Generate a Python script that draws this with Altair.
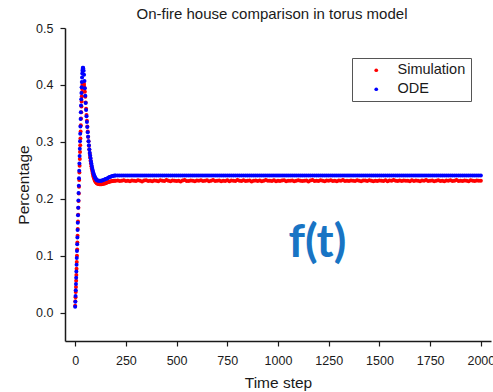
import altair as alt
import pandas as pd

# ---- time steps at which values are plotted ----
t_steps = list(range(0, 41)) + list(range(42, 111, 2)) + list(range(115, 201, 5)) + list(range(210, 2001, 10))

# ---- ODE (blue) ----
ode_values = [
    0.010, 0.019, 0.029, 0.039, 0.050, 0.061, 0.072, 0.084, 0.096, 0.108,
    0.120, 0.132, 0.145, 0.158, 0.171, 0.184, 0.197, 0.210, 0.223, 0.236,
    0.249, 0.262, 0.275, 0.288, 0.301, 0.314, 0.327, 0.340, 0.352, 0.364,
    0.375, 0.386, 0.396, 0.405, 0.413, 0.420, 0.425, 0.428, 0.430, 0.430,
    0.429,
    # 42..110 step 2
    0.425, 0.418, 0.407, 0.394, 0.381, 0.368, 0.356, 0.345, 0.335, 0.326,
    0.317, 0.309, 0.301, 0.294, 0.287, 0.281, 0.276, 0.271, 0.266, 0.262,
    0.258, 0.254, 0.251, 0.248, 0.245, 0.243, 0.241, 0.239, 0.2375, 0.2362,
    0.2350, 0.2340, 0.2332, 0.2326, 0.2321,
    # 115..200 step 5
    0.2316, 0.2314, 0.2315, 0.2318, 0.2323, 0.2330, 0.2337, 0.2345, 0.2353, 0.2362,
    0.2371, 0.2380, 0.2388, 0.2395, 0.2400, 0.2404, 0.2407, 0.2410,
    # 210..2000 step 10
    0.241, 0.241, 0.241, 0.241, 0.241, 0.241, 0.241, 0.241, 0.241, 0.241,
    0.241, 0.241, 0.241, 0.241, 0.241, 0.241, 0.241, 0.241, 0.241, 0.241,
    0.241, 0.241, 0.241, 0.241, 0.241, 0.241, 0.241, 0.241, 0.241, 0.241,
    0.241, 0.241, 0.241, 0.241, 0.241, 0.241, 0.241, 0.241, 0.241, 0.241,
    0.241, 0.241, 0.241, 0.241, 0.241, 0.241, 0.241, 0.241, 0.241, 0.241,
    0.241, 0.241, 0.241, 0.241, 0.241, 0.241, 0.241, 0.241, 0.241, 0.241,
    0.241, 0.241, 0.241, 0.241, 0.241, 0.241, 0.241, 0.241, 0.241, 0.241,
    0.241, 0.241, 0.241, 0.241, 0.241, 0.241, 0.241, 0.241, 0.241, 0.241,
    0.241, 0.241, 0.241, 0.241, 0.241, 0.241, 0.241, 0.241, 0.241, 0.241,
    0.241, 0.241, 0.241, 0.241, 0.241, 0.241, 0.241, 0.241, 0.241, 0.241,
    0.241, 0.241, 0.241, 0.241, 0.241, 0.241, 0.241, 0.241, 0.241, 0.241,
    0.241, 0.241, 0.241, 0.241, 0.241, 0.241, 0.241, 0.241, 0.241, 0.241,
    0.241, 0.241, 0.241, 0.241, 0.241, 0.241, 0.241, 0.241, 0.241, 0.241,
    0.241, 0.241, 0.241, 0.241, 0.241, 0.241, 0.241, 0.241, 0.241, 0.241,
    0.241, 0.241, 0.241, 0.241, 0.241, 0.241, 0.241, 0.241, 0.241, 0.241,
    0.241, 0.241, 0.241, 0.241, 0.241, 0.241, 0.241, 0.241, 0.241, 0.241,
    0.241, 0.241, 0.241, 0.241, 0.241, 0.241, 0.241, 0.241, 0.241, 0.241,
    0.241, 0.241, 0.241, 0.241, 0.241, 0.241, 0.241, 0.241, 0.241, 0.241,
]

# ---- Simulation (red) ----
sim_values = [
    0.012, 0.020, 0.027, 0.036, 0.045, 0.056, 0.066, 0.077, 0.089, 0.100,
    0.111, 0.123, 0.135, 0.147, 0.160, 0.172, 0.184, 0.196, 0.209, 0.221,
    0.233, 0.246, 0.258, 0.270, 0.282, 0.294, 0.306, 0.318, 0.329, 0.341,
    0.352, 0.362, 0.371, 0.380, 0.387, 0.393, 0.398, 0.401, 0.403, 0.404,
    0.404,
    # 42..110 step 2
    0.403, 0.400, 0.395, 0.388, 0.379, 0.369, 0.358, 0.347, 0.337, 0.327,
    0.318, 0.309, 0.301, 0.293, 0.286, 0.279, 0.273, 0.267, 0.262, 0.257,
    0.253, 0.249, 0.245, 0.242, 0.239, 0.237, 0.235, 0.233, 0.2315, 0.2302,
    0.2292, 0.2283, 0.2276, 0.2270, 0.2265,
    # 115..200 step 5
    0.2259, 0.2255, 0.2254, 0.2255, 0.2258, 0.2262, 0.2268, 0.2274, 0.2281, 0.2288,
    0.2294, 0.2300, 0.2305, 0.2309, 0.2312, 0.2314, 0.2315, 0.2316,
    # 210..2000 step 10
    0.2320, 0.2313, 0.2316, 0.2325, 0.2311, 0.2318, 0.2307, 0.2322, 0.2315, 0.2310,
    0.2323, 0.2314, 0.2304, 0.2319, 0.2326, 0.2312, 0.2317, 0.2309, 0.2321, 0.2315,
    0.2308, 0.2324, 0.2316, 0.2311, 0.2329, 0.2314, 0.2306, 0.2320, 0.2318, 0.2312,
    0.2316, 0.2303, 0.2321, 0.2327, 0.2313, 0.2310, 0.2322, 0.2317, 0.2305, 0.2319,
    0.2314, 0.2325, 0.2311, 0.2318, 0.2323, 0.2308, 0.2315, 0.2330, 0.2312, 0.2316,
    0.2321, 0.2309, 0.2317, 0.2313, 0.2324, 0.2306, 0.2319, 0.2315, 0.2311, 0.2328,
    0.2315, 0.2312, 0.2326, 0.2310, 0.2318, 0.2322, 0.2304, 0.2317, 0.2320, 0.2313,
    0.2319, 0.2307, 0.2315, 0.2331, 0.2314, 0.2316, 0.2311, 0.2323, 0.2309, 0.2318,
    0.2312, 0.2320, 0.2325, 0.2308, 0.2317, 0.2314, 0.2321, 0.2306, 0.2316, 0.2324,
    0.2318, 0.2311, 0.2316, 0.2322, 0.2303, 0.2319, 0.2327, 0.2313, 0.2315, 0.2310,
    0.2323, 0.2316, 0.2309, 0.2320, 0.2314, 0.2325, 0.2312, 0.2318, 0.2305, 0.2321,
    0.2315, 0.2328, 0.2313, 0.2317, 0.2310, 0.2322, 0.2316, 0.2311, 0.2324, 0.2314,
    0.2307, 0.2319, 0.2321, 0.2313, 0.2326, 0.2315, 0.2309, 0.2318, 0.2312, 0.2320,
    0.2316, 0.2311, 0.2324, 0.2305, 0.2319, 0.2317, 0.2329, 0.2314, 0.2310, 0.2321,
    0.2313, 0.2322, 0.2315, 0.2318, 0.2308, 0.2323, 0.2312, 0.2320, 0.2316, 0.2306,
    0.2319, 0.2314, 0.2327, 0.2311, 0.2316, 0.2321, 0.2309, 0.2315, 0.2325, 0.2312,
    0.2318, 0.2305, 0.2320, 0.2314, 0.2323, 0.2310, 0.2317, 0.2328, 0.2313, 0.2316,
    0.2311, 0.2321, 0.2315, 0.2309, 0.2324, 0.2318, 0.2312, 0.2320, 0.2314, 0.2317,
]

series_names = ["Simulation", "ODE"]
series_colors = ["#ff0000", "#0000ff"]

x_ticks = [0, 125, 250, 375, 500, 625, 750, 875, 1000, 1125, 1250, 1375,
           1500, 1625, 1750, 1875, 2000]
y_ticks = [0.0, 0.05, 0.1, 0.15, 0.2, 0.25, 0.3, 0.35, 0.4, 0.45, 0.5]

annot_t = [1194]
annot_v = [0.123]
annot_text = ["f(t)"]

df = pd.DataFrame({
    "t": t_steps + t_steps,
    "value": sim_values + ode_values,
    "series": ["Simulation"] * len(t_steps) + ["ODE"] * len(t_steps),
})
annot = pd.DataFrame({"t": annot_t, "value": annot_v, "label": annot_text})

FONT = "Liberation Sans"
TXT = "#1a1a1a"

x_enc = alt.X(
    "t:Q",
    scale=alt.Scale(domain=[-50, 2050], nice=False, zero=False),
    axis=alt.Axis(
        title="Time step", values=x_ticks, format="d",
        labelExpr="datum.value % 250 == 0 ? datum.label : ''",
        tickSize=5, labelPadding=8, titleY=46, titleBaseline="alphabetic",
    ),
)
y_enc = alt.Y(
    "value:Q",
    scale=alt.Scale(domain=[-0.05, 0.5], nice=False, zero=False),
    axis=alt.Axis(
        title="Percentage", values=y_ticks, format=".1f",
        labelExpr="round(datum.value * 100) % 10 == 0 ? datum.label : ''",
        tickSize=5, labelPadding=7, titleX=-37, titleBaseline="alphabetic",
    ),
)

points = alt.Chart(df).mark_circle(size=16, opacity=1).encode(
    x=x_enc,
    y=y_enc,
    color=alt.Color(
        "series:N",
        scale=alt.Scale(domain=series_names, range=series_colors),
        legend=alt.Legend(
            title=None, orient="none", legendX=287, legendY=30,
            symbolType="circle", symbolSize=14, symbolStrokeWidth=0,
            labelFont=FONT, labelFontSize=14.5, labelColor=TXT,
            padding=5, symbolOffset=12, labelOffset=14, rowPadding=4,
            strokeColor="#555555", fillColor="white",
        ),
    ),
)

text = alt.Chart(annot).mark_text(
    font="Lato", fontSize=46, fontWeight="bold", color="#1874c4",
    align="center", baseline="middle",
).encode(x="t:Q", y="value:Q", text="label:N")

chart = (
    alt.layer(points, text)
    .properties(
        width=426, height=313,
        title=alt.TitleParams(
            "On-fire house comparison in torus model",
            font=FONT, fontSize=15, fontWeight="normal", color=TXT,
            anchor="middle", frame="group", offset=6, baseline="alphabetic",
            dx=-6, dy=18,
        ),
        autosize=alt.AutoSizeParams(type="none"),
        padding={"left": 65, "top": 28, "right": 2, "bottom": 51},
    )
    .configure_view(stroke=None)
    .configure_axis(
        grid=False, labelFont=FONT, titleFont=FONT, labelFontSize=12.5,
        titleFontSize=15.5, titleFontWeight="normal", labelColor=TXT,
        titleColor=TXT, domainColor=TXT, tickColor=TXT, domainWidth=1.5,
        tickWidth=1.2,
    )
)

chart.save("out.html", embed_options={"renderer": "svg", "actions": False})
